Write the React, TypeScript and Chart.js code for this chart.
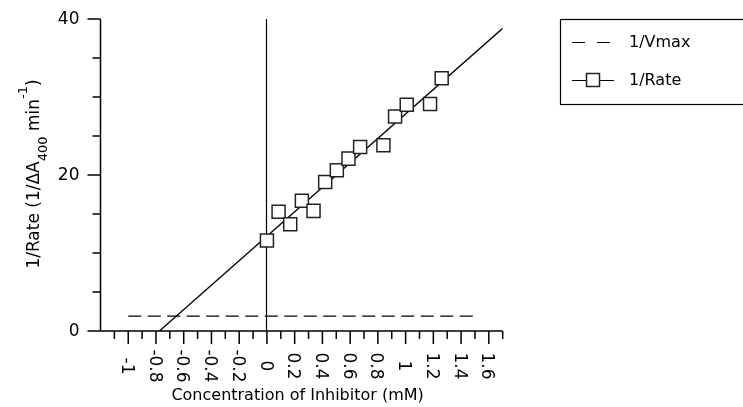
import React, { useEffect, useRef } from "react";
import { Chart, registerables } from "chart.js";

Chart.register(...registerables);

// ---- data ----
const rateX = [0, 0.084, 0.168, 0.252, 0.336, 0.42, 0.504, 0.588, 0.672, 0.84, 0.924, 1.008, 1.176, 1.26];
const rateY = [11.6, 15.3, 13.7, 16.7, 15.4, 19.1, 20.6, 22.1, 23.6, 23.8, 27.5, 29.0, 29.1, 32.4];
const fitX = [-0.775, 1.7];
const fitY = [0, 38.8];
const vmaxX = [-1, 1.5];
const vmaxY = [1.9, 1.9];

const xMin = -1.2;
const xMax = 1.7;
const yMin = 0;
const yMax = 40;
const xMajorTicks = [-1, -0.8, -0.6, -0.4, -0.2, 0, 0.2, 0.4, 0.6, 0.8, 1, 1.2, 1.4, 1.6];
const xTickLabels = ["-1", "-0.8", "-0.6", "-0.4", "-0.2", "0", "0.2", "0.4", "0.6", "0.8", "1", "1.2", "1.4", "1.6"];
const xMinorTicks = [-1.1, -0.9, -0.7, -0.5, -0.3, -0.1, 0.1, 0.3, 0.5, 0.7, 0.9, 1.1, 1.3, 1.5, 1.7];
const yMajorTicks = [0, 20, 40];
const yTickLabels = ["0", "20", "40"];
const yMinorTicks = [5, 10, 15, 25, 30, 35];

const xTitle = "Concentration of Inhibitor (mM)";
const legendLabels = ["1/Vmax", "1/Rate"];

const FONT = "'DejaVu Sans', 'Liberation Sans', sans-serif";

const customPlugin = {
  id: "customAxes",
  beforeDatasetsDraw(chart: any) {
    const { ctx, scales } = chart;
    const x = scales.x;
    const y = scales.y;
    ctx.save();
    ctx.strokeStyle = "#000";
    ctx.lineWidth = 1.2;
    const x0 = Math.round(x.getPixelForValue(0)) - 0.5;
    ctx.beginPath();
    ctx.moveTo(x0, y.getPixelForValue(yMax));
    ctx.lineTo(x0, y.getPixelForValue(yMin));
    ctx.stroke();
    ctx.restore();
  },
  afterDraw(chart: any) {
    const { ctx, scales } = chart;
    const x = scales.x;
    const y = scales.y;
    const left = x.getPixelForValue(xMin);
    const right = x.getPixelForValue(xMax);
    const top = y.getPixelForValue(yMax);
    const bottom = y.getPixelForValue(yMin);
    const MAJ = 13;
    const MIN = 8;
    ctx.save();
    ctx.strokeStyle = "#000";
    ctx.fillStyle = "#000";
    ctx.lineWidth = 1.5;
    // axis lines
    ctx.beginPath();
    ctx.moveTo(left, top);
    ctx.lineTo(left, bottom);
    ctx.moveTo(left, bottom);
    ctx.lineTo(right, bottom);
    ctx.stroke();
    // y ticks
    ctx.beginPath();
    yMajorTicks.forEach((v) => {
      const py = y.getPixelForValue(v);
      ctx.moveTo(left - MAJ, py);
      ctx.lineTo(left, py);
    });
    yMinorTicks.forEach((v) => {
      const py = y.getPixelForValue(v);
      ctx.moveTo(left - MIN, py);
      ctx.lineTo(left, py);
    });
    // x ticks
    xMajorTicks.forEach((v) => {
      const px = x.getPixelForValue(v);
      ctx.moveTo(px, bottom);
      ctx.lineTo(px, bottom + MAJ);
    });
    xMinorTicks.forEach((v) => {
      const px = x.getPixelForValue(v);
      ctx.moveTo(px, bottom);
      ctx.lineTo(px, bottom + MIN);
    });
    ctx.stroke();

    // y tick labels
    ctx.font = `17px ${FONT}`;
    ctx.textAlign = "right";
    ctx.textBaseline = "middle";
    yMajorTicks.forEach((v, i) => {
      ctx.fillText(yTickLabels[i], left - 21, y.getPixelForValue(v) + 1);
    });

    // x tick labels rotated clockwise
    xMajorTicks.forEach((v, i) => {
      const px = x.getPixelForValue(v);
      ctx.save();
      ctx.translate(px - 2, bottom + 35);
      ctx.rotate(Math.PI / 2);
      ctx.textAlign = "center";
      ctx.textBaseline = "middle";
      ctx.fillText(xTickLabels[i], 0, 0);
      ctx.restore();
    });

    // x title
    ctx.font = `16px ${FONT}`;
    ctx.textAlign = "center";
    ctx.textBaseline = "alphabetic";
    ctx.fillText(xTitle, (left + right) / 2 - 4, 400);

    // y title with sub/superscript
    const parts = [
      { t: "1/Rate (1/\u0394A", size: 17, dy: 0 },
      { t: "400", size: 13, dy: 8 },
      { t: " min", size: 17, dy: 0 },
      { t: "-1", size: 13, dy: -12 },
      { t: ")", size: 17, dy: 0 },
    ];
    let total = 0;
    parts.forEach((p) => {
      ctx.font = `${p.size}px ${FONT}`;
      total += ctx.measureText(p.t).width;
    });
    ctx.save();
    ctx.translate(38.5, (top + bottom) / 2 + total / 2 - 1);
    ctx.rotate(-Math.PI / 2);
    ctx.textAlign = "left";
    ctx.textBaseline = "alphabetic";
    let cx = 0;
    parts.forEach((p) => {
      ctx.font = `${p.size}px ${FONT}`;
      ctx.fillText(p.t, cx, p.dy);
      cx += ctx.measureText(p.t).width;
    });
    ctx.restore();

    // legend
    ctx.lineWidth = 1.2;
    ctx.strokeRect(560.5, 19.5, 260, 85);
    ctx.lineWidth = 1.2;
    ctx.setLineDash([13, 12]);
    ctx.beginPath();
    ctx.moveTo(572, 42.5);
    ctx.lineTo(611, 42.5);
    ctx.stroke();
    ctx.setLineDash([]);
    ctx.beginPath();
    ctx.moveTo(572, 80.5);
    ctx.lineTo(614, 80.5);
    ctx.stroke();
    ctx.fillStyle = "#fff";
    ctx.strokeStyle = "#222";
    ctx.lineWidth = 1.5;
    ctx.fillRect(586.5, 73.5, 13, 13);
    ctx.strokeRect(586.5, 73.5, 13, 13);
    ctx.fillStyle = "#000";
    ctx.font = `16px ${FONT}`;
    ctx.textAlign = "left";
    ctx.textBaseline = "middle";
    ctx.fillText(legendLabels[0], 629, 43);
    ctx.fillText(legendLabels[1], 629, 81);
    ctx.restore();
  },
};

export default function App() {
  const ref = useRef<HTMLCanvasElement | null>(null);
  useEffect(() => {
    document.body.style.margin = "0";
    const canvas = ref.current!;
    const chart = new Chart(canvas, {
      type: "scatter",
      data: {
        datasets: [
          {
            label: legendLabels[1],
            data: rateX.map((v, i) => ({ x: v, y: rateY[i] })),
            showLine: false,
            pointStyle: "rect",
            pointRadius: 9.2,
            pointHoverRadius: 9.2,
            pointBackgroundColor: "#fff",
            pointBorderColor: "#222",
            pointBorderWidth: 1.5,
            order: 0,
          },
          {
            label: "fit",
            data: fitX.map((v, i) => ({ x: v, y: fitY[i] })),
            showLine: true,
            borderColor: "#000",
            borderWidth: 1.3,
            pointRadius: 0,
            order: 1,
          },
          {
            label: legendLabels[0],
            data: vmaxX.map((v, i) => ({ x: v, y: vmaxY[i] })),
            showLine: true,
            borderColor: "#000",
            borderWidth: 1.2,
            borderDash: [13, 6.5],
            pointRadius: 0,
            order: 2,
          },
        ],
      },
      options: {
        animation: false,
        responsive: false,
        devicePixelRatio: 1,
        layout: { padding: { left: 100.5, right: 240.3, top: 19, bottom: 76 } },
        scales: {
          x: { type: "linear", min: xMin, max: xMax, display: false },
          y: { type: "linear", min: yMin, max: yMax, display: false },
        },
        plugins: { legend: { display: false }, tooltip: { enabled: false } },
      },
      plugins: [customPlugin],
    });
    return () => chart.destroy();
  }, []);
  return <canvas ref={ref} width={743} height={407} style={{ display: "block" }} />;
}
